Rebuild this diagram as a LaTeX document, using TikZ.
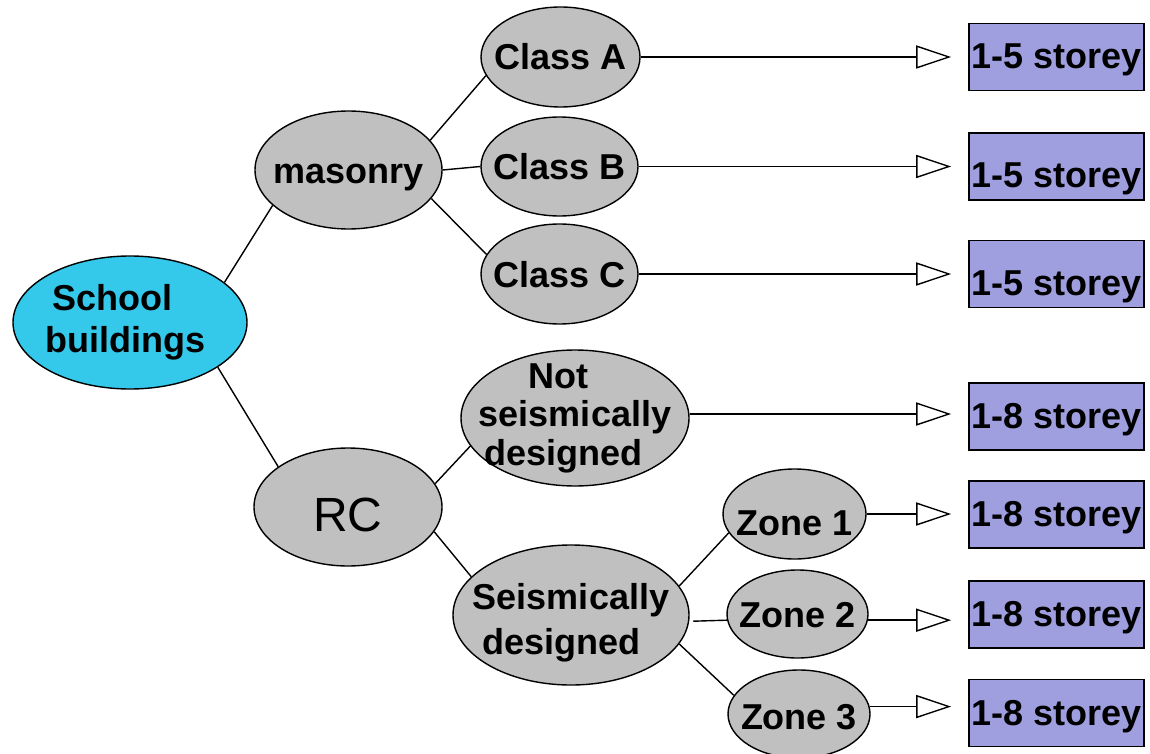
\documentclass[tikz,border=0pt]{standalone}
\usepackage{fontspec}
\setmainfont{Liberation Sans}
\usetikzlibrary{shapes.geometric,arrows.meta}
\definecolor{rootcyan}{RGB}{52,201,234}
\definecolor{nodegray}{RGB}{192,192,192}
\definecolor{boxblue}{RGB}{159,159,223}
\tikzset{
  ell/.style={ellipse, draw=black, line width=1.4pt, fill=nodegray, inner sep=0pt},
  lab/.style={font=\bfseries\fontsize{36}{42}\selectfont, align=center, text height=26pt, text depth=0pt, inner sep=0pt},
  labm/.style={font=\bfseries\fontsize{36}{#1}\selectfont, align=center, inner sep=0pt},
  storeybox/.style={rectangle, draw=black, line width=1.6pt, fill=boxblue, minimum width=175pt, minimum height=67pt, inner sep=0pt,
    font=\bfseries\fontsize{36}{42}\selectfont, text height=28pt, text depth=4pt},
  lowtext/.style={text height=43pt, text depth=0pt},
  link/.style={draw=black, line width=1.4pt},
  arr/.style={draw=black, line width=1.4pt, -{Triangle[open, length=35pt, width=23pt]}, shorten >=17pt}
}
\begin{document}
\begin{tikzpicture}[x=1pt, y=-1pt]
\fill[white] (0,0) rectangle (1150,754);
\useasboundingbox (0,0) rectangle (1150,754);

% ellipses
\node[ell, fill=rootcyan, minimum width=234pt, minimum height=133pt,
  label={[labm=42, xshift=-4.5pt]center:School\hspace*{26pt}\\buildings}] (school) at (130,322.5) {};
\node[ell, minimum width=187pt, minimum height=118pt,
  label={[lab]center:masonry}] (masonry) at (348.5,170) {};
\node[ell, minimum width=188pt, minimum height=118pt,
  label={[font=\fontsize{48}{56}\selectfont, inner sep=0pt, yshift=-8pt]center:RC}] (rc) at (348,507) {};
\node[ell, minimum width=159pt, minimum height=100pt,
  label={[lab]center:Class A}] (classA) at (560.5,57) {};
\node[ell, minimum width=157pt, minimum height=99pt,
  label={[lab]center:Class B}] (classB) at (559.5,166.5) {};
\node[ell, minimum width=157pt, minimum height=100pt,
  label={[lab]center:Class C}] (classC) at (559.5,274) {};
\node[ell, minimum width=228pt, minimum height=136pt,
  label={[labm=38.5]center:Not\hspace*{33pt}\\seismically\\designed\hspace*{23pt}}] (notseis) at (575,418) {};
\node[ell, minimum width=236pt, minimum height=140pt,
  label={[labm=45, yshift=-8pt]center:Seismically\\designed\hspace*{19pt}}] (seis) at (571,615) {};
\node[ell, minimum width=143pt, minimum height=90pt,
  label={[lab, yshift=-8pt]center:Zone 1}] (zone1) at (794.5,514) {};
\node[ell, minimum width=141pt, minimum height=88pt,
  label={[lab]center:Zone 2}] (zone2) at (797.5,614) {};
\node[ell, minimum width=142pt, minimum height=88pt,
  label={[lab, yshift=-2pt]center:Zone 3}] (zone3) at (799,714) {};

% boxes
\node[storeybox] (boxA) at (1056.5,57) {1-5 storey};
\node[storeybox, lowtext] (boxB) at (1056.5,166.5) {1-5 storey};
\node[storeybox, lowtext] (boxC) at (1056.5,274) {1-5 storey};
\node[storeybox] (boxN) at (1056.5,416.5) {1-8 storey};
\node[storeybox] (box1) at (1056.5,514.5) {1-8 storey};
\node[storeybox] (box2) at (1056.5,614.5) {1-8 storey};
\node[storeybox] (box3) at (1056.5,713) {1-8 storey};

% tree links
\draw[link] (school.23.5) -- (masonry.205);
\draw[link] (school.333) -- (rc.150);
\draw[link] (masonry.20) -- (classA.194);
\draw[link] (masonry.east) -- (classB.west);
\draw[link] (masonry.341) -- (classC.165);
\draw[link] (rc.15) -- (notseis.195);
\draw[link] (rc.344) -- (seis.159);
\draw[link] (seis.15.5) -- (zone1.196);
\draw[link] ([xshift=4pt]seis.-3) -- (zone2.185);
\draw[link] (seis.345) -- (zone3.164);

% arrows
\draw[arr] (classA.east) -- (classA.east -| boxA.west);
\draw[arr] (classB.east) -- (classB.east -| boxB.west);
\draw[arr] (classC.east) -- (classC.east -| boxC.west);
\draw[arr] (notseis.2.5) -- (notseis.2.5 -| boxN.west);
\draw[arr] (zone1.east) -- (zone1.east -| box1.west);
\draw[arr] (zone2.-5) -- (zone2.-5 -| box2.west);
\draw[arr] (zone3.6.5) -- (zone3.6.5 -| box3.west);
\end{tikzpicture}
\end{document}
